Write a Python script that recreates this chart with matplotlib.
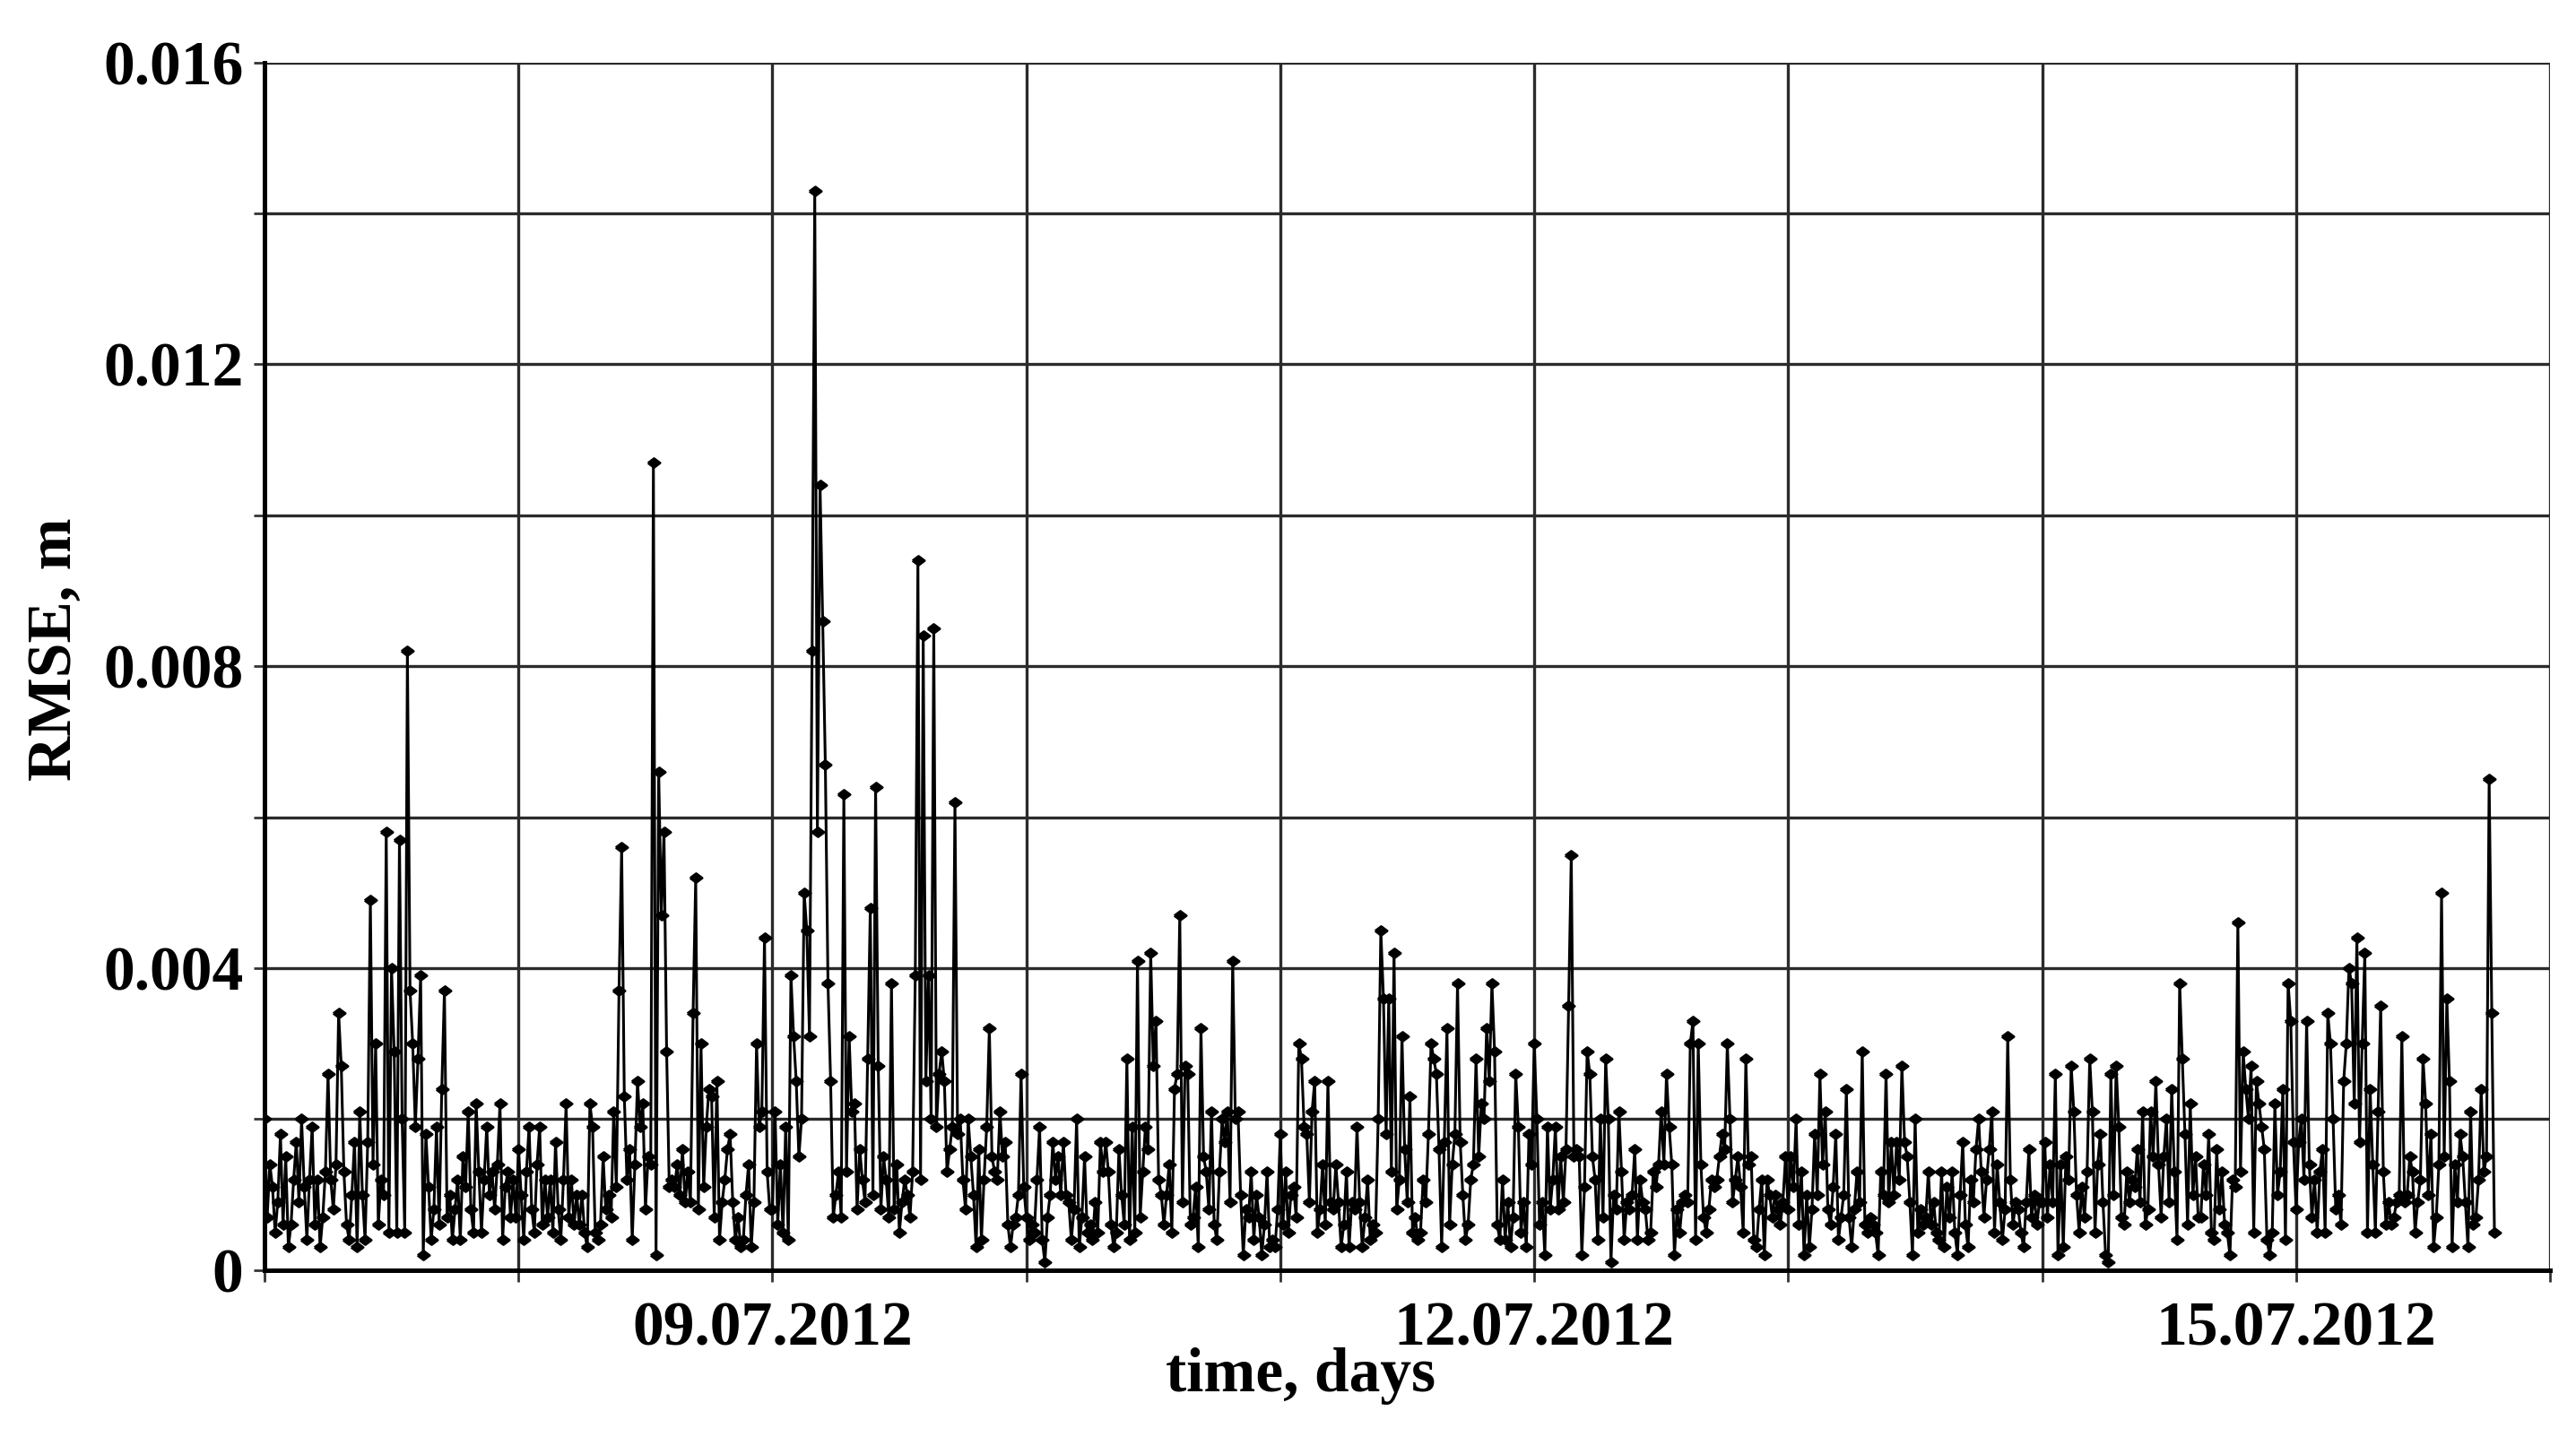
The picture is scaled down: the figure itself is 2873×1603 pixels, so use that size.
import numpy as np
import pandas as pd
import matplotlib
matplotlib.use("Agg")
import matplotlib.pyplot as plt

# RMSE sampled every 15 min, values in units of 1e-4 m, one list per day
rmse_0707 = [20, 7, 14, 11, 5, 9, 18, 6, 15, 3, 6, 12, 17, 9, 20, 11, 4, 12, 19, 6,
             12, 3, 7, 13, 26, 12, 8, 14, 34, 27, 13, 6, 4, 10, 17, 3, 21, 10, 4, 17,
             49, 14, 30, 6, 12, 10, 58, 5, 40, 29, 5, 57, 20, 5, 82, 37, 30, 19, 28, 39,
             2, 18, 11, 4, 8, 19, 6, 24, 37, 7, 10, 4, 8, 12, 4, 15, 11, 21, 8, 5,
             22, 13, 5, 12, 19, 10, 13, 8, 14, 22, 4, 11, 13, 7, 12, 7]
rmse_0708 = [16, 10, 4, 13, 19, 8, 5, 14, 19, 6, 12, 7, 12, 5, 17, 8, 4, 12, 22, 7,
             12, 6, 10, 6, 10, 5, 3, 22, 19, 5, 4, 6, 15, 8, 10, 7, 21, 11, 37, 56,
             23, 12, 16, 4, 14, 25, 19, 22, 8, 15, 14, 107, 2, 66, 47, 58, 29, 11, 12, 11,
             14, 10, 16, 9, 13, 9, 34, 52, 8, 30, 11, 19, 24, 23, 7, 25, 4, 9, 12, 16,
             18, 9, 4, 7, 3, 4, 10, 14, 3, 9, 30, 19, 21, 44, 13, 8]
rmse_0709 = [8, 21, 6, 14, 5, 19, 4, 39, 31, 25, 15, 20, 50, 45, 31, 82, 143, 58, 104, 86,
             67, 38, 25, 7, 10, 13, 7, 63, 13, 31, 21, 22, 8, 16, 12, 9, 28, 48, 10, 64,
             27, 8, 15, 12, 7, 38, 8, 14, 5, 9, 12, 10, 7, 13, 39, 94, 12, 84, 25, 39,
             20, 85, 19, 26, 29, 25, 13, 16, 19, 62, 18, 20, 12, 8, 20, 15, 10, 3, 16, 4,
             12, 19, 32, 15, 13, 12, 21, 15, 17, 6, 3, 6, 7, 10, 26, 11]
rmse_0710 = [7, 4, 6, 5, 12, 19, 4, 1, 7, 10, 17, 12, 15, 10, 17, 10, 9, 4, 8, 20,
             3, 7, 15, 5, 6, 4, 9, 5, 17, 13, 17, 13, 6, 3, 5, 16, 10, 6, 28, 4,
             19, 5, 41, 7, 13, 19, 16, 42, 27, 33, 12, 10, 6, 10, 14, 5, 24, 26, 47, 9,
             27, 26, 6, 7, 11, 3, 32, 15, 13, 8, 21, 6, 4, 13, 20, 17, 21, 9, 41, 20,
             21, 10, 2, 8, 7, 13, 4, 10, 7, 2, 6, 13, 3, 4, 3, 8]
rmse_0711 = [18, 6, 13, 5, 10, 11, 7, 30, 28, 19, 18, 9, 21, 25, 5, 8, 14, 6, 25, 9,
             8, 14, 9, 3, 6, 13, 3, 9, 8, 19, 9, 3, 7, 12, 4, 6, 5, 20, 45, 36,
             18, 36, 13, 42, 8, 12, 31, 16, 9, 23, 5, 7, 4, 5, 12, 9, 18, 30, 28, 26,
             16, 3, 17, 32, 6, 14, 18, 38, 17, 10, 4, 6, 12, 14, 28, 15, 22, 20, 32, 25,
             38, 29, 6, 4, 12, 4, 9, 3, 7, 26, 19, 5, 9, 3, 18, 14]
rmse_0712 = [30, 20, 6, 9, 2, 19, 8, 12, 19, 8, 15, 9, 16, 35, 55, 15, 16, 15, 2, 11,
             29, 26, 15, 12, 4, 20, 7, 28, 20, 1, 10, 8, 21, 13, 4, 9, 8, 10, 16, 4,
             12, 9, 8, 4, 5, 13, 11, 14, 21, 14, 26, 19, 14, 2, 8, 5, 9, 10, 9, 30,
             33, 4, 30, 14, 7, 5, 8, 12, 11, 12, 15, 18, 16, 30, 20, 9, 12, 15, 11, 5,
             28, 14, 15, 4, 3, 8, 12, 2, 12, 10, 7, 10, 8, 6, 9, 15]
rmse_0713 = [8, 15, 11, 20, 6, 13, 2, 10, 3, 8, 18, 10, 26, 14, 21, 8, 6, 11, 18, 4,
             7, 10, 24, 7, 3, 8, 13, 9, 29, 6, 5, 7, 6, 5, 2, 13, 10, 26, 9, 17,
             10, 17, 12, 27, 17, 15, 9, 2, 20, 5, 8, 6, 7, 13, 6, 9, 5, 4, 13, 3,
             11, 7, 13, 5, 2, 10, 17, 6, 3, 12, 9, 16, 20, 13, 7, 12, 16, 21, 5, 14,
             9, 4, 8, 31, 12, 6, 9, 8, 5, 3, 9, 16, 7, 10, 6, 9]
rmse_0714 = [9, 17, 7, 14, 9, 26, 2, 14, 3, 15, 12, 27, 21, 10, 5, 11, 7, 13, 28, 21,
             5, 14, 18, 9, 2, 1, 26, 10, 27, 19, 7, 6, 13, 9, 12, 11, 16, 9, 21, 6,
             8, 21, 15, 25, 14, 7, 15, 20, 9, 24, 13, 4, 38, 28, 18, 6, 22, 10, 15, 7,
             7, 14, 10, 18, 5, 4, 16, 8, 13, 6, 5, 2, 12, 11, 46, 13, 29, 24, 20, 27,
             5, 25, 22, 19, 16, 4, 2, 5, 22, 10, 13, 24, 4, 38, 33, 17]
rmse_0715 = [8, 17, 20, 12, 33, 14, 7, 12, 5, 13, 16, 5, 34, 30, 20, 8, 10, 6, 25, 30,
             40, 38, 22, 44, 17, 30, 42, 5, 24, 14, 5, 21, 35, 13, 6, 9, 6, 7, 9, 10,
             31, 9, 10, 15, 13, 5, 9, 12, 28, 22, 10, 18, 3, 7, 14, 50, 15, 36, 25, 3,
             14, 9, 18, 15, 9, 3, 21, 6, 7, 12, 24, 13, 15, 65, 34, 5]

start_date = "2012-07-07"
end_date = "2012-07-16"
date_labels = ["09.07.2012", "12.07.2012", "15.07.2012"]
y_ticks = [0, 0.002, 0.004, 0.006, 0.008, 0.010, 0.012, 0.014, 0.016]
y_tick_labels = ["0", "", "0.004", "", "0.008", "", "0.012", "", "0.016"]

days = [rmse_0707, rmse_0708, rmse_0709, rmse_0710, rmse_0711,
        rmse_0712, rmse_0713, rmse_0714, rmse_0715]
rmse = np.concatenate([np.array(d, dtype=float) for d in days]) * 1e-4
t = pd.date_range(start_date, periods=len(rmse), freq="15min")

plt.rcParams["font.family"] = ["Liberation Serif", "DejaVu Serif"]
plt.rcParams["font.weight"] = "bold"
plt.rcParams["axes.labelweight"] = "bold"
plt.rcParams["font.size"] = 25

fig = plt.figure(figsize=(2873 / 200, 1603 / 200), dpi=200)
ax = fig.add_axes([0.1027, 0.1162, 0.8872, 0.8404])

diamond = [(-1, 0), (0, 0.75), (1, 0), (0, -0.75), (-1, 0)]
ax.plot(t, rmse, color="black", lw=1.1, marker=diamond, markersize=4.8,
        markerfacecolor="black", markeredgecolor="black", zorder=3)

day_ticks = pd.date_range(start_date, end_date, freq="D")
ax.set_xticks(day_ticks)
ax.set_xticklabels([d.strftime("%d.%m.%Y") if d.strftime("%d.%m.%Y") in date_labels else ""
                    for d in day_ticks])
ax.set_xlim(pd.Timestamp(start_date), pd.Timestamp(end_date))

ax.set_yticks(y_ticks)
ax.set_yticklabels(y_tick_labels)
ax.set_ylim(0, 0.016)

ax.grid(True, color="#2b2b2b", lw=1.2, zorder=1)
ax.tick_params(axis="both", direction="out", length=4.5, width=1.0, color="#333333")
ax.tick_params(axis="x", pad=8)
ax.tick_params(axis="y", pad=4)

for s in ["top", "right"]:
    ax.spines[s].set_visible(False)
for s in ["left", "bottom"]:
    ax.spines[s].set_linewidth(1.8)
    ax.spines[s].set_color("black")

ax.set_xlabel("time, days")
ax.xaxis.set_label_coords(0.4535, -0.064)
ax.set_ylabel("RMSE, m")
ax.yaxis.set_label_coords(-0.079, 0.514)

fig.savefig("out.png", dpi=200)
